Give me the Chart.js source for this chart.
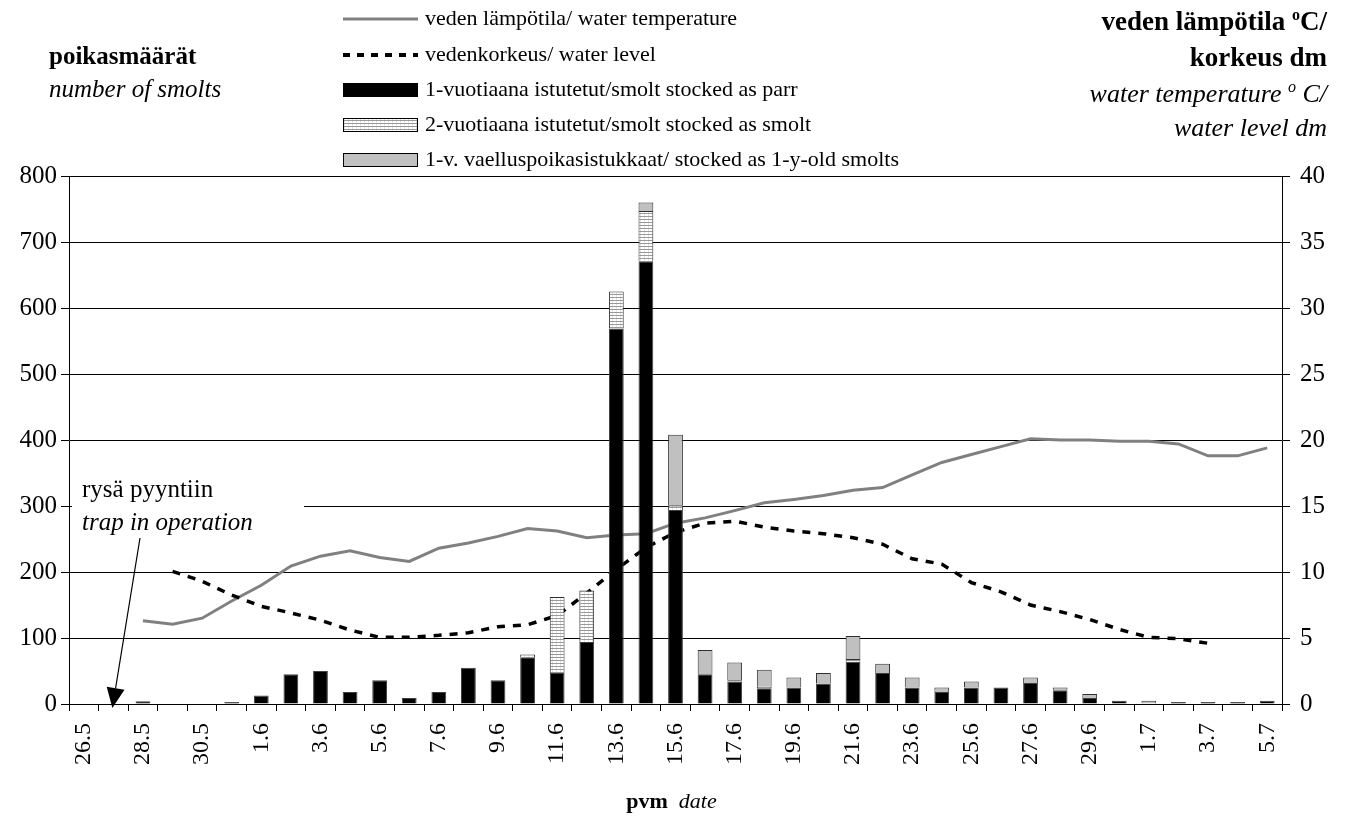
<!DOCTYPE html>
<html>
<head>
<meta charset="utf-8">
<script src="https://cdn.jsdelivr.net/npm/chart.js@4.4.1/dist/chart.umd.min.js"></script>
<style>
  html, body { margin: 0; padding: 0; background: #fff; }
  #wrap { width: 1345px; height: 816px; position: relative; }
</style>
</head>
<body>
<div id="wrap"><canvas id="c"></canvas></div>
<script>
// Daily catch at the smolt trap, 26 May – 5 July
const dates = [
  '26.5','27.5','28.5','29.5','30.5','31.5',
  '1.6','2.6','3.6','4.6','5.6','6.6','7.6','8.6','9.6','10.6',
  '11.6','12.6','13.6','14.6','15.6','16.6','17.6','18.6','19.6','20.6',
  '21.6','22.6','23.6','24.6','25.6','26.6','27.6','28.6','29.6','30.6',
  '1.7','2.7','3.7','4.7','5.7'
];

// Smolts stocked as parr (1-year-old)
const parr = [
  0, 0, 4, 0, 0, 3,
  13, 45, 50, 18, 36, 9, 18, 55, 36, 71,
  47, 94, 569, 671, 294, 45, 34, 24, 25, 31,
  64, 47, 25, 18, 25, 25, 32, 21, 9, 5,
  0, 3, 3, 3, 5
];

// Smolts stocked as 2-year-old smolts
const stockedAsSmolt = [
  0, 0, 0, 0, 0, 0,
  0, 0, 0, 0, 0, 0, 0, 0, 0, 4,
  115, 78, 56, 76, 7, 0, 2, 2, 0, 0,
  4, 0, 0, 0, 0, 0, 0, 0, 0, 0,
  0, 0, 0, 0, 0
];

// Smolts stocked as 1-year-old smolts
const stockedYearling = [
  0, 0, 0, 0, 0, 0,
  0, 0, 0, 0, 0, 0, 0, 0, 0, 0,
  0, 0, 0, 13, 107, 37, 27, 26, 15, 16,
  35, 14, 15, 7, 9, 0, 8, 4, 6, 0,
  5, 0, 0, 0, 0
];

// Water temperature, °C
const waterTemp = [
  null, null, 6.3, 6.05, 6.5, 7.8,
  9.0, 10.45, 11.2, 11.6, 11.1, 10.8, 11.8, 12.2, 12.7, 13.3,
  13.1, 12.6, 12.8, 12.9, 13.7, 14.1, 14.65, 15.25, 15.5, 15.8,
  16.2, 16.4, 17.35, 18.3, 18.9, 19.5, 20.1, 20.0, 20.0, 19.9,
  19.9, 19.7, 18.8, 18.8, 19.4
];

// Water level, dm
const waterLevel = [
  null, null, null, 10.05, 9.3, 8.25,
  7.4, 6.9, 6.35, 5.6, 5.05, 5.05, 5.2, 5.4, 5.85, 6.0,
  6.7, 8.4, 10.2, 11.85, 13.0, 13.7, 13.85, 13.4, 13.1, 12.9,
  12.6, 12.1, 11.0, 10.6, 9.2, 8.5, 7.5, 7.0, 6.4, 5.65,
  5.05, 4.95, 4.6, null, null
];

const countTicks = [0, 100, 200, 300, 400, 500, 600, 700, 800];
const levelTicks = [0, 5, 10, 15, 20, 25, 30, 35, 40];

const SERIF = '"Liberation Serif", "Times New Roman", "DejaVu Serif", serif';

const canvas = document.getElementById('c');
const ctx2d = canvas.getContext('2d');

// fine horizontal hatching for the "stocked as smolt" segments
function hatchPattern(ctx) {
  const p = document.createElement('canvas');
  p.width = 4; p.height = 3;
  const g = p.getContext('2d');
  g.fillStyle = '#ffffff'; g.fillRect(0, 0, 4, 3);
  g.fillStyle = '#9a9a9a'; g.fillRect(0, 0, 4, 1);
  g.fillStyle = '#e2e2e2'; g.fillRect(0, 1, 1, 2);
  return ctx.createPattern(p, 'repeat');
}
const hatch = hatchPattern(ctx2d);

const segBorder = c => (c.raw ? 1 : 0);

// draw several text runs (with raised superscripts) ending at xRight
function drawRuns(ctx, runs, xRight, y) {
  let total = 0;
  runs.forEach(r => { ctx.font = r.font; total += ctx.measureText(r.text).width; });
  let x = xRight - total;
  runs.forEach(r => {
    ctx.font = r.font;
    ctx.fillText(r.text, x, y + (r.dy || 0));
    x += ctx.measureText(r.text).width;
  });
}
function drawRunsLeft(ctx, runs, x, y) {
  runs.forEach(r => {
    ctx.font = r.font;
    ctx.fillText(r.text, x, y + (r.dy || 0));
    x += ctx.measureText(r.text).width;
  });
}

const decorations = {
  id: 'decorations',
  beforeDatasetsDraw(chart) {
    // white box behind the trap note
    const c = chart.ctx;
    c.save();
    c.fillStyle = '#fff';
    c.fillRect(72, 479, 232, 54);
    c.restore();
  },
  afterDraw(chart) {
    const c = chart.ctx;
    const xs = chart.scales.x, ys = chart.scales.y;
    c.save();
    c.fillStyle = '#000';
    c.textBaseline = 'alphabetic';
    c.textAlign = 'left';

    // left axis title
    c.font = 'bold 25px ' + SERIF;
    c.fillText('poikasmäärät', 49, 64);
    c.font = 'italic 25px ' + SERIF;
    c.fillText('number of smolts', 49, 97);

    // right axis title
    const B = 'bold 27px ' + SERIF, Bs = 'bold 16px ' + SERIF;
    const I = 'italic 26px ' + SERIF, Is = 'italic 16px ' + SERIF;
    drawRuns(c, [{text: 'veden lämpötila ', font: B}, {text: 'o', font: Bs, dy: -10}, {text: 'C/', font: B}], 1327, 30);
    drawRuns(c, [{text: 'korkeus dm', font: B}], 1327, 66);
    drawRuns(c, [{text: 'water temperature ', font: I}, {text: 'o', font: Is, dy: -10}, {text: ' C/', font: I}], 1327, 102);
    drawRuns(c, [{text: 'water level dm', font: I}], 1327, 136);

    // legend
    const rows = [19, 55, 90, 125, 160];
    const lx0 = 343, lx1 = 418, tx = 425;
    c.lineCap = 'butt';
    // temperature sample
    c.strokeStyle = '#808080'; c.lineWidth = 3; c.setLineDash([]);
    c.beginPath(); c.moveTo(lx0, rows[0]); c.lineTo(lx1, rows[0]); c.stroke();
    // water level sample
    c.strokeStyle = '#000'; c.lineWidth = 4; c.setLineDash([7, 7]);
    c.beginPath(); c.moveTo(lx0, rows[1]); c.lineTo(lx1, rows[1]); c.stroke();
    c.setLineDash([]);
    const boxes = [['#000', rows[2]], [hatch, rows[3]], ['#c0c0c0', rows[4]]];
    boxes.forEach(([fill, y]) => {
      c.fillStyle = fill;
      c.fillRect(lx0, y - 7, lx1 - lx0, 14);
      c.strokeStyle = '#000'; c.lineWidth = 1;
      c.strokeRect(lx0 + 0.5, y - 6.5, lx1 - lx0 - 1, 13);
    });
    c.fillStyle = '#000';
    c.font = '22px ' + SERIF;
    c.textBaseline = 'middle';
    const legendTexts = [
      'veden lämpötila/ water temperature',
      'vedenkorkeus/ water level',
      '1-vuotiaana istutetut/smolt stocked as parr',
      '2-vuotiaana istutetut/smolt stocked as smolt',
      '1-v. vaelluspoikasistukkaat/ stocked as 1-y-old smolts'
    ];
    legendTexts.forEach((t, i) => c.fillText(t, tx, rows[i]));

    // x axis title
    c.textBaseline = 'alphabetic';
    const xt = [{text: 'pvm', font: 'bold 22px ' + SERIF}, {text: '  date', font: 'italic 22px ' + SERIF}];
    let w = 0;
    xt.forEach(r => { c.font = r.font; w += c.measureText(r.text).width; });
    drawRunsLeft(c, xt, (xs.left + xs.right) / 2 - w / 2 - 4, 808);

    // trap note with arrow to the first fishing day
    c.font = '25px ' + SERIF;
    c.fillText('rysä pyyntiin', 82, 497);
    c.font = 'italic 25px ' + SERIF;
    c.fillText('trap in operation', 82, 530);

    const tipX = xs.getPixelForValue(1) - 1;
    const tipY = ys.getPixelForValue(0) + 4;
    const sx = 140, sy = 538;
    const dx = tipX - sx, dy = tipY - sy, len = Math.hypot(dx, dy);
    const ux = dx / len, uy = dy / len;
    const bx = tipX - ux * 20, by = tipY - uy * 20;
    c.strokeStyle = '#000'; c.lineWidth = 1.2;
    c.beginPath(); c.moveTo(sx, sy); c.lineTo(bx, by); c.stroke();
    c.beginPath();
    c.moveTo(tipX, tipY);
    c.lineTo(bx + uy * 9, by - ux * 9);
    c.lineTo(bx - uy * 9, by + ux * 9);
    c.closePath();
    c.fill();
    c.restore();
  }
};

new Chart(canvas, {
  type: 'bar',
  data: {
    labels: dates,
    datasets: [
      {
        type: 'line', label: 'veden lämpötila/ water temperature',
        data: waterTemp, yAxisID: 'yr',
        borderColor: '#808080', borderWidth: 3, pointRadius: 0, tension: 0, order: 5
      },
      {
        type: 'line', label: 'vedenkorkeus/ water level',
        data: waterLevel, yAxisID: 'yr',
        borderColor: '#000', borderWidth: 3.5, borderDash: [8, 8], pointRadius: 0, tension: 0, order: 4
      },
      {
        label: '1-vuotiaana istutetut/smolt stocked as parr',
        data: parr, yAxisID: 'y', stack: 's',
        backgroundColor: '#000', borderColor: '#404040', borderWidth: segBorder, order: 1
      },
      {
        label: '2-vuotiaana istutetut/smolt stocked as smolt',
        data: stockedAsSmolt, yAxisID: 'y', stack: 's',
        backgroundColor: hatch, borderColor: '#303030', borderWidth: segBorder, order: 2
      },
      {
        label: '1-v. vaelluspoikasistukkaat/ stocked as 1-y-old smolts',
        data: stockedYearling, yAxisID: 'y', stack: 's',
        backgroundColor: '#c0c0c0', borderColor: '#303030', borderWidth: segBorder, order: 3
      }
    ]
  },
  options: {
    responsive: true,
    maintainAspectRatio: false,
    animation: false,
    layout: { padding: { top: 176, left: 0, right: 0, bottom: 0 } },
    datasets: { bar: { categoryPercentage: 1, barPercentage: 0.5 } },
    plugins: { legend: { display: false }, tooltip: { enabled: false } },
    scales: {
      x: {
        stacked: true,
        offset: true,
        grid: { offset: true, drawOnChartArea: false, drawTicks: true, tickLength: 7, tickColor: '#000', color: '#000' },
        border: { display: true, color: '#000', width: 1 },
        ticks: {
          autoSkip: false, minRotation: 90, maxRotation: 90, padding: 12,
          color: '#000', font: { family: SERIF, size: 24 },
          callback: (v, i) => (i % 2 === 0 ? dates[i] : '')
        },
        afterFit: s => { s.height = 112; }
      },
      y: {
        position: 'left', stacked: true, min: 0, max: 800,
        afterBuildTicks: s => { s.ticks = countTicks.map(v => ({ value: v })); },
        grid: { color: '#000', lineWidth: 1, drawTicks: true, tickLength: 8, tickColor: '#000' },
        border: { display: true, color: '#000', width: 1 },
        ticks: { color: '#000', padding: 4, font: { family: SERIF, size: 25 } },
        afterFit: s => { s.width = 69; }
      },
      yr: {
        position: 'right', min: 0, max: 40,
        afterBuildTicks: s => { s.ticks = levelTicks.map(v => ({ value: v })); },
        grid: { drawOnChartArea: false, drawTicks: true, tickLength: 8, tickColor: '#000', color: '#000' },
        border: { display: true, color: '#000', width: 1 },
        ticks: { color: '#000', padding: 10, font: { family: SERIF, size: 25 } },
        afterFit: s => { s.width = 63; }
      }
    }
  },
  plugins: [decorations]
});
</script>
</body>
</html>
